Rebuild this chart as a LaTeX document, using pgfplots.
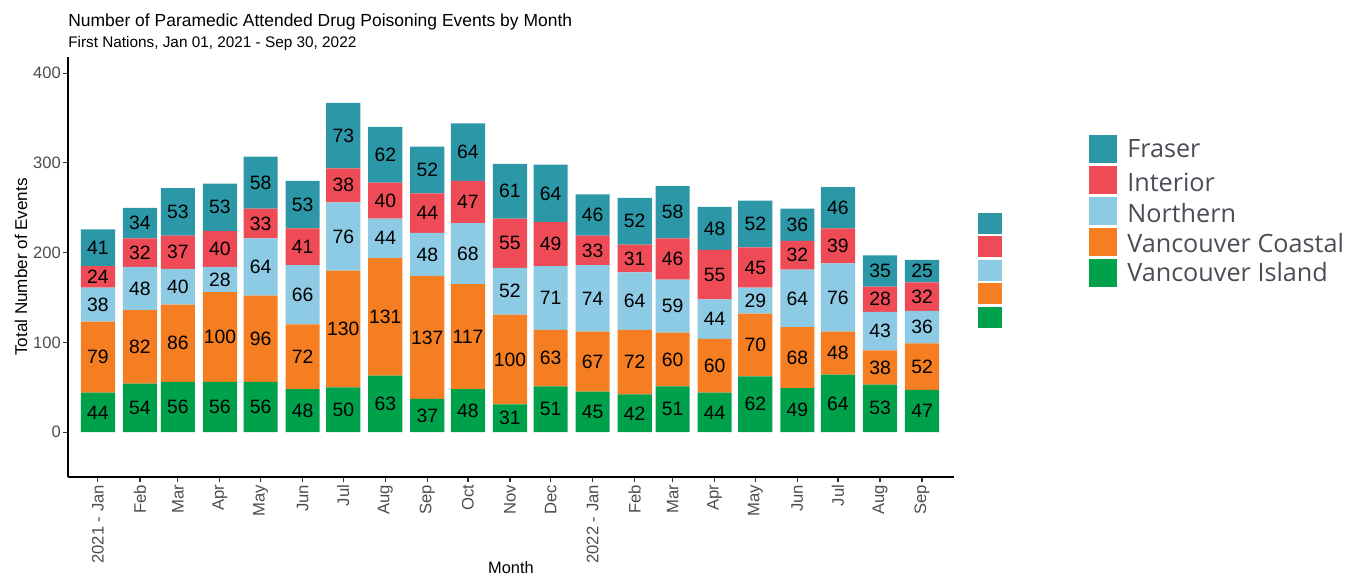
\documentclass[border=0pt]{standalone}
\usepackage{pgfplots}
\pgfplotsset{compat=1.18}
\usepackage{pgfplotstable}
\usepackage{fontspec}
\setmainfont{Liberation Sans}
\newfontfamily\legfont{Open Sans}
\definecolor{cF}{HTML}{2C97A7}
\definecolor{cI}{HTML}{EF4B56}
\definecolor{cN}{HTML}{8DCAE4}
\definecolor{cVC}{HTML}{F47E21}
\definecolor{cVI}{HTML}{00A14B}
\definecolor{tickgray}{HTML}{4D4D4D}
\definecolor{leggray}{HTML}{4B4C55}

\pgfplotstableread{
x VI VC N I F
0 44 79 38 24 41
31 54 82 48 32 34
59 56 86 40 37 53
90 56 100 28 40 53
120 56 96 64 33 58
151 48 72 66 41 53
181 50 130 76 38 73
212 63 131 44 40 62
243 37 137 48 44 52
273 48 117 68 47 64
304 31 100 52 55 61
334 51 63 71 49 64
365 45 67 74 33 46
396 42 72 64 31 52
424 51 60 59 46 58
455 44 60 44 55 48
485 62 70 29 45 52
516 49 68 64 32 36
546 64 48 76 39 46
577 53 38 43 28 35
608 47 52 36 32 25
}\data

\pgfplotsset{base/.style={scale only axis, width=664.5pt, height=315pt,
  xmin=-22.1, xmax=631.6, ymin=-50, ymax=418,
  at={(51pt,73.5pt)}, anchor=south west,
  /pgf/number format/assume math mode=true}}

\begin{document}
\begin{tikzpicture}
\path[use as bounding box] (0,0) rectangle (1009.5pt,431.25pt);
\begin{axis}[base, ybar stacked, bar width=25.2,
  axis lines*=left,
  axis line style={black, line width=0.8pt},
  tick style={black!80, line width=0.8pt},
  tick align=outside, major tick length=3.75pt,
  ytick={0,100,200,300,400},
  xtick={0,31,59,90,120,151,181,212,243,273,304,334,365,396,424,455,485,516,546,577,608},
  xticklabels={2021 - Jan,Feb,Mar,Apr,May,Jun,Jul,Aug,Sep,Oct,Nov,Dec,2022 - Jan,Feb,Mar,Apr,May,Jun,Jul,Aug,Sep},
  x tick label style={rotate=90, anchor=east, font=\fontsize{12.5}{14}\selectfont, text=tickgray, inner sep=2pt},
  y tick label style={font=\fontsize{12.4}{14}\selectfont, text=tickgray, inner sep=1.5pt},
  ]
\addplot[fill=cVI, draw=none] table[x=x, y=VI]{\data};
\addplot[fill=cVC, draw=none] table[x=x, y=VC]{\data};
\addplot[fill=cN, draw=none] table[x=x, y=N]{\data};
\addplot[fill=cI, draw=none] table[x=x, y=I]{\data};
\addplot[fill=cF, draw=none] table[x=x, y=F]{\data};
\end{axis}
\begin{axis}[base, hide axis,
  every node near coord/.append style={anchor=center, inner sep=0pt, font=\fontsize{14.5}{16}\selectfont, text=black}]
\addplot[draw=none, mark=none, nodes near coords, point meta=explicit] table[x=x, y expr=\thisrow{VI}/2, meta=VI]{\data};
\addplot[draw=none, mark=none, nodes near coords, point meta=explicit] table[x=x, y expr=\thisrow{VI}+\thisrow{VC}/2, meta=VC]{\data};
\addplot[draw=none, mark=none, nodes near coords, point meta=explicit] table[x=x, y expr=\thisrow{VI}+\thisrow{VC}+\thisrow{N}/2, meta=N]{\data};
\addplot[draw=none, mark=none, nodes near coords, point meta=explicit] table[x=x, y expr=\thisrow{VI}+\thisrow{VC}+\thisrow{N}+\thisrow{I}/2, meta=I]{\data};
\addplot[draw=none, mark=none, nodes near coords, point meta=explicit] table[x=x, y expr=\thisrow{VI}+\thisrow{VC}+\thisrow{N}+\thisrow{I}+\thisrow{F}/2, meta=F]{\data};
\end{axis}
\begin{scope}[x=0.75pt, y=-0.75pt, shift={(0pt,431.25pt)}]
\node[anchor=base west, inner sep=0pt, font=\fontsize{13.1}{15}\selectfont] at (68,27) {Number of Paramedic Attended Drug Poisoning Events by Month};
\node[anchor=base west, inner sep=0pt, font=\fontsize{11.5}{13}\selectfont] at (68,48) {First Nations, Jan 01, 2021 - Sep 30, 2022};
\node[rotate=90, inner sep=0pt, font=\fontsize{12.8}{14}\selectfont] at (21,267) {Total Number of Events};
\node[inner sep=0pt, font=\fontsize{12.3}{14}\selectfont] at (511,568) {Month};
% small legend keys
\foreach \yy/\cc in {213/cF,236.5/cI,260/cN,283.5/cVC,307/cVI}{
  \fill[\cc] (978,\yy) rectangle (1002,\yy+21);
}
% large legend
\foreach \yy/\cc/\tt/\dy in {135/cF/Fraser/0,166/cI/Interior/2,197/cN/Northern/2,228/cVC/Vancouver Coastal/1,259/cVI/Vancouver Island/-1}{
  \fill[\cc] (1089,\yy) rectangle (1117,\yy+28);
  \node[anchor=west, inner sep=0pt, text=leggray, font=\legfont\fontsize{18.9}{21}\selectfont] at (1127,\yy+14+\dy) {\tt};
}
\end{scope}
\end{tikzpicture}
\end{document}
